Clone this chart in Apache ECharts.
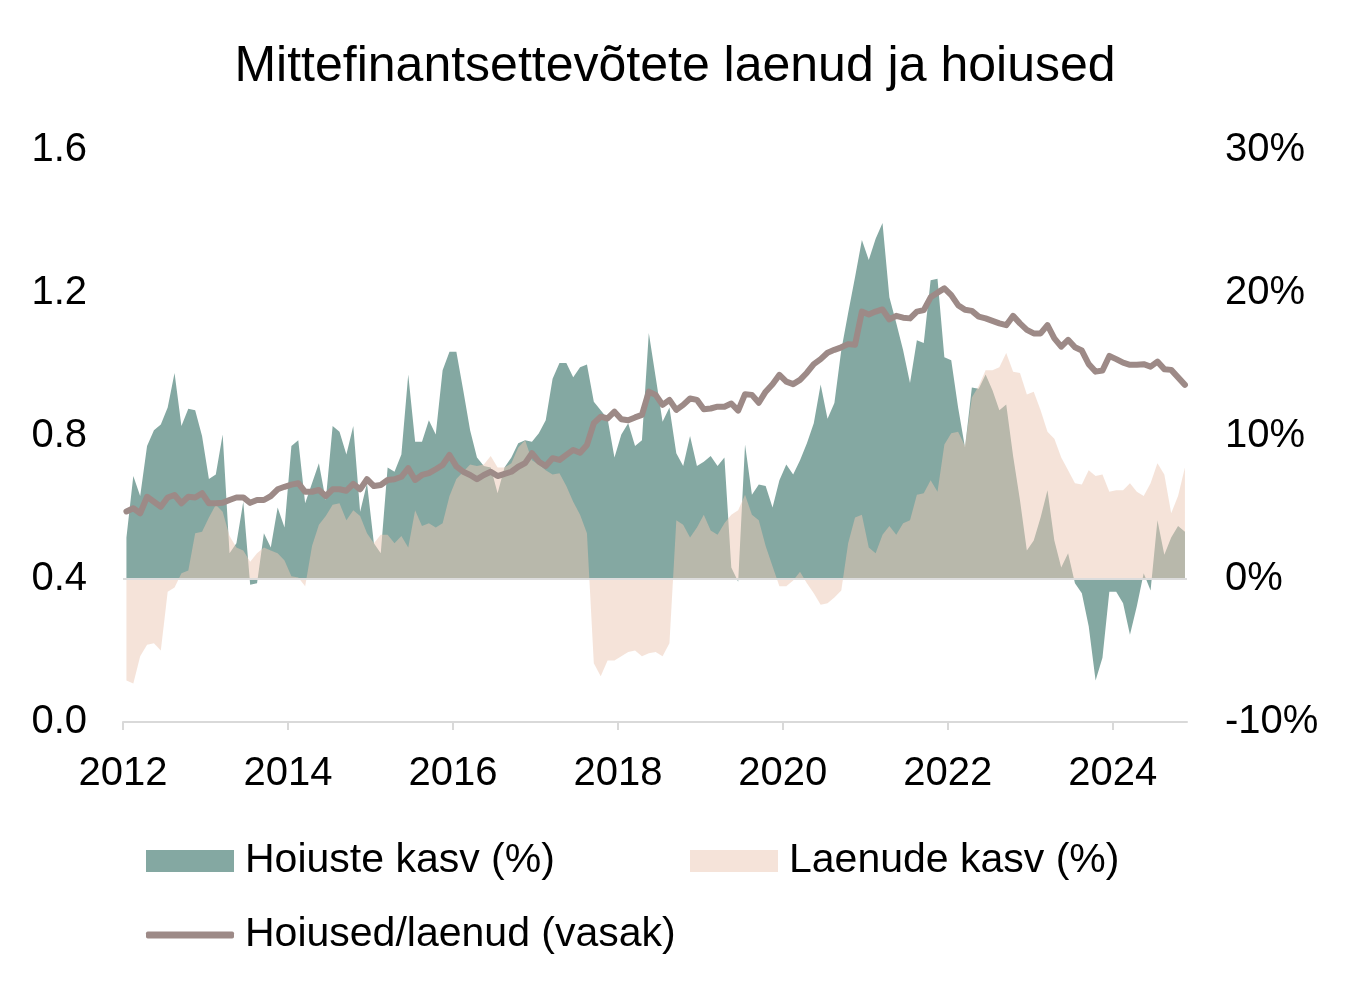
<!DOCTYPE html>
<html><head><meta charset="utf-8">
<script src="https://cdn.jsdelivr.net/npm/echarts@6/dist/echarts.min.js"></script>
<style>html,body{margin:0;padding:0;background:#fff}#c{width:1350px;height:990px}</style>
</head><body><div id="c"></div>
<script>
// Monthly data, Jan 2012 .. Nov 2024
const startYear = 2012;
const depositGrowth = [
2.9,7.2,5.8,9.3,10.4,10.8,12.0,14.4,10.7,11.9,11.8,10.0,
7.0,7.3,10.1,1.8,2.5,5.4,-0.4,-0.3,3.2,2.2,5.0,3.6,
9.3,9.7,5.3,6.7,8.1,5.5,10.7,10.3,8.7,10.7,4.7,6.7,
2.5,1.8,7.8,7.5,8.7,14.3,9.6,9.6,11.1,10.1,14.6,15.9,
15.9,13.2,10.4,8.5,7.9,7.8,6.0,7.8,8.5,9.5,9.7,9.6,
10.2,11.1,14.0,15.1,15.1,14.1,14.8,15.0,12.4,11.8,11.2,8.5,
10.1,10.9,9.3,9.7,17.2,14.1,11.0,12.0,8.8,7.9,10.0,7.9,
8.2,8.6,7.9,8.5,0.8,-0.2,9.4,5.9,6.6,6.5,5.0,6.9,
8.0,7.3,8.3,9.5,10.9,13.6,11.2,12.3,16.0,18.6,21.1,23.7,
22.3,23.8,24.9,19.7,17.9,16.0,13.7,16.7,16.5,20.9,21.0,15.5,
15.3,12.0,9.2,13.4,13.3,14.3,13.2,11.8,12.2,8.6,5.5,2.0,
2.7,4.3,6.2,2.7,0.8,1.8,-0.3,-1.0,-3.3,-7.1,-5.5,-0.9,
-0.9,-1.7,-3.9,-1.9,0.4,-0.8,4.1,1.7,2.9,3.7,3.3
];
const loanGrowth = [
-7.1,-7.3,-5.4,-4.6,-4.5,-5.0,-0.9,-0.6,0.4,0.6,3.2,3.3,
4.3,5.2,4.7,3.0,2.2,2.0,1.2,1.8,2.2,2.0,1.8,1.3,
0.2,0.1,-0.5,2.3,3.8,4.4,5.2,5.3,4.1,4.8,4.4,3.2,
2.5,3.1,3.1,2.5,3.0,2.2,4.8,3.7,3.9,3.6,3.9,5.8,
7.0,7.5,8.0,7.9,8.0,8.6,7.8,7.8,8.1,9.2,9.7,8.3,
8.0,7.6,7.3,7.4,6.5,5.4,4.5,3.2,-5.9,-6.8,-5.7,-5.7,
-5.4,-5.1,-5.0,-5.4,-5.2,-5.1,-5.4,-4.5,4.1,3.8,2.9,3.6,
4.5,3.4,3.1,3.9,4.5,4.8,5.9,4.5,4.1,2.3,0.9,-0.5,
-0.5,-0.1,0.5,-0.3,-1.0,-1.8,-1.7,-1.3,-0.8,2.5,4.3,4.5,
2.2,1.8,3.1,3.7,3.1,3.9,4.1,5.9,6.0,6.9,6.1,9.4,
10.2,10.3,9.3,12.7,13.5,14.6,14.6,14.8,15.8,14.5,14.4,12.9,
13.1,11.8,10.3,9.8,8.5,7.6,6.7,6.6,7.6,7.2,7.3,6.1,
6.2,6.2,6.7,6.1,5.8,6.7,8.1,7.3,4.6,5.8,7.8
];
const depositLoanRatio = [
0.589,0.598,0.584,0.630,0.616,0.602,0.628,0.635,0.612,0.630,0.628,0.640,
0.612,0.612,0.613,0.621,0.628,0.628,0.613,0.621,0.621,0.632,0.651,0.658,
0.664,0.668,0.644,0.644,0.649,0.632,0.651,0.651,0.647,0.666,0.651,0.679,
0.660,0.663,0.677,0.679,0.686,0.710,0.677,0.691,0.696,0.707,0.719,0.747,
0.715,0.700,0.691,0.679,0.691,0.700,0.688,0.694,0.700,0.714,0.724,0.752,
0.728,0.716,0.738,0.733,0.747,0.761,0.753,0.775,0.836,0.854,0.849,0.868,
0.847,0.844,0.852,0.859,0.924,0.915,0.887,0.901,0.873,0.887,0.905,0.901,
0.875,0.877,0.882,0.882,0.891,0.871,0.917,0.915,0.893,0.924,0.945,0.971,
0.952,0.945,0.957,0.977,1.001,1.015,1.033,1.041,1.048,1.057,1.055,1.148,
1.140,1.148,1.154,1.126,1.136,1.131,1.129,1.148,1.152,1.188,1.201,1.213,
1.194,1.166,1.153,1.150,1.134,1.129,1.122,1.115,1.110,1.136,1.115,1.097,
1.087,1.087,1.110,1.073,1.050,1.069,1.048,1.039,1.001,0.980,0.983,1.024,
1.015,1.005,0.999,0.999,1.001,0.994,1.008,0.987,0.985,0.964,0.943
];
const yearTicks = [2012,2014,2016,2018,2020,2022,2024];
const seriesNames = ['Hoiuste kasv (%)','Laenude kasv (%)','Hoiused/laenud (vasak)'];
const titleText = 'Mittefinantsettevõtete laenud ja hoiused';

const FONT = 'Arial, "Liberation Sans", sans-serif';
const TEAL = '#84a8a2';
const PEACH = 'rgba(235,200,180,0.5)';
const LINE = '#9d8a87';

function toXY(arr){ return arr.map((v,k)=>[startYear + (k+0.5)/12, v]); }

const chart = echarts.init(document.getElementById('c'), null, {renderer:'canvas'});
const legendText = {fontFamily:FONT, fontSize:41, color:'#000', padding:[0,0,0,6], lineHeight:46};
chart.setOption({
  animation:false,
  backgroundColor:'#fff',
  title:{text:titleText, left:'center', top:42, padding:0,
    textStyle:{fontFamily:FONT, fontSize:50, fontWeight:'normal', color:'#000'}},
  grid:{left:123, right:163, top:150, bottom:268, containLabel:false},
  legend:[
    {data:[{name:seriesNames[0], icon:'rect'}], left:146, top:838, padding:0, itemWidth:88, itemHeight:22, textStyle:legendText, selectedMode:false},
    {data:[{name:seriesNames[1], icon:'rect'}], left:690, top:838, padding:0, itemWidth:88, itemHeight:22, textStyle:legendText, selectedMode:false},
    {data:[{name:seriesNames[2], icon:'roundRect'}], left:146, top:912, padding:0, itemWidth:88, itemHeight:7, textStyle:legendText, selectedMode:false}
  ],
  xAxis:{type:'value', min:2012, max:2024.9, interval:2,
    axisLine:{onZero:false, lineStyle:{color:'#d9d9d9', width:2}},
    axisTick:{show:true, length:8, lineStyle:{color:'#d9d9d9', width:2}, customValues:yearTicks},
    axisLabel:{fontFamily:FONT, fontSize:40, color:'#000', margin:32, customValues:yearTicks,
      formatter:v=>(Math.abs(v-Math.round(v))<1e-6 && Math.round(v)%2===0)?String(Math.round(v)):''},
    splitLine:{show:false}},
  yAxis:[
    {type:'value', min:0, max:1.6, interval:0.4, position:'left',
      axisLine:{show:false}, axisTick:{show:false}, splitLine:{show:false},
      axisLabel:{fontFamily:FONT, fontSize:40, color:'#000', margin:36, formatter:v=>v.toFixed(1)}},
    {type:'value', min:-10, max:30, interval:10, position:'right',
      axisLine:{show:false}, axisTick:{show:false}, splitLine:{show:false},
      axisLabel:{fontFamily:FONT, fontSize:40, color:'#000', margin:38, formatter:v=>v+'%'}}
  ],
  series:[
    {name:seriesNames[0], type:'line', yAxisIndex:1, data:toXY(depositGrowth), showSymbol:false, symbol:'none',
      itemStyle:{color:TEAL}, lineStyle:{width:0}, areaStyle:{color:TEAL, opacity:1, origin:0}, z:1},
    {name:seriesNames[1], type:'line', yAxisIndex:1, data:toXY(loanGrowth), showSymbol:false, symbol:'none',
      itemStyle:{color:PEACH}, lineStyle:{width:0}, areaStyle:{color:PEACH, opacity:1, origin:0}, z:2,
      markLine:{silent:true, symbol:'none', label:{show:false}, lineStyle:{color:'#dcdcdc', width:2, type:'solid'}, data:[{yAxis:0}], z:3}},
    {name:seriesNames[2], type:'line', yAxisIndex:0, data:toXY(depositLoanRatio), showSymbol:false, symbol:'none',
      itemStyle:{color:LINE}, lineStyle:{color:LINE, width:6, cap:'round', join:'round'}, z:4}
  ]
});
</script>
</body></html>
